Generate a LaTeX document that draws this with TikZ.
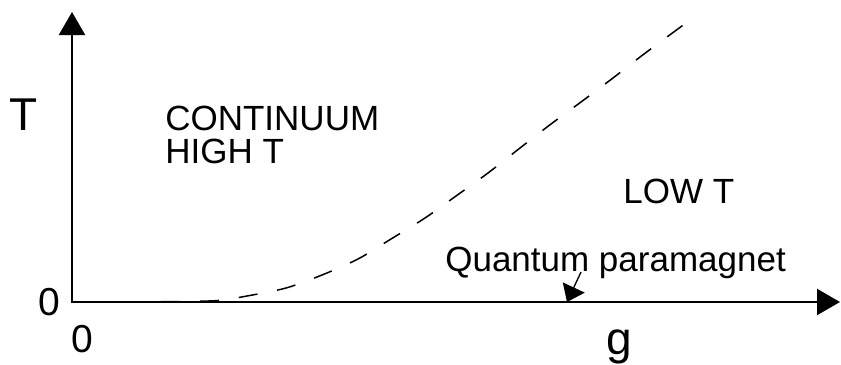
\documentclass[tikz,border=0pt]{standalone}
\usepackage{fontspec}
\setmainfont{Liberation Sans}
\usetikzlibrary{arrows.meta}
\begin{document}
\begin{tikzpicture}
% Phase diagram, coordinates in pixels of the sketch
\def\pxsz{0.6pt}
\providecommand{\phaseAxisWidth}{1.3pt}
\providecommand{\phaseCurveWidth}{0.9pt}
\providecommand{\phaseLabelFont}{\fontsize{21pt}{19.5pt}\selectfont}
\providecommand{\phaseAxisFont}{\fontsize{27.6pt}{32pt}\selectfont}
\providecommand{\phaseZeroFont}{\fontsize{23.4pt}{28pt}\selectfont}
\begin{scope}[x=\pxsz, y=\pxsz,
  axis/.style={line width=\phaseAxisWidth, line cap=rect, -{Triangle[length=13.8pt, width=15.6pt]}},
  crossover/.style={line width=\phaseCurveWidth, dash pattern=on 11.4pt off 12pt},
  pointer/.style={line width=0.8pt, -{Triangle[length=9.6pt, width=14.4pt]}},
  region/.style={anchor=base west, inner sep=0pt, align=left, font=\phaseLabelFont},
  axislabel/.style={anchor=base, inner sep=0pt, font=\phaseAxisFont},
  zerolabel/.style={anchor=base, inner sep=0pt, font=\phaseZeroFont}]
  \useasboundingbox (0,0) rectangle (841,364);
  % Axes
  \coordinate (O) at (72,62);
  \coordinate (ytip) at (72,352);
  \coordinate (xtip) at (840,62);
  \draw[axis] (O) -- (ytip);
  \draw[axis] (O) -- (xtip);
  % Axis labels
  \node[axislabel] (Tlabel) at (24,234) {T};
  \node[axislabel] (glabel) at (619,10) {g};
  \node[zerolabel] (zeroT) at (49,49) {0};
  \node[zerolabel] (zerog) at (82,12) {0};
  % Crossover line
  \draw[crossover] plot[smooth, tension=0.5] coordinates
    {(122,62) (180,62.5) (218,63.5) (247,68) (286,76) (322,89) (358,105)
     (391,125) (425,146) (456,168) (488,191) (520,216) (551,240) (581,262)
     (613,286) (644,310) (686,341)};
  % Regions
  \node[region] (highT) at (165,201) {CONTINUUM\\HIGH T};
  \node[region] (lowT) at (623,161) {LOW T};
  \node[region] (qpm) at (445,93) {Quantum paramagnet};
  % Pointer to the g axis
  \coordinate (qpfrom) at (581,92);
  \coordinate (qpto) at (567,62);
  \draw[pointer] (qpfrom) -- (qpto);
\end{scope}
\end{tikzpicture}
\end{document}
